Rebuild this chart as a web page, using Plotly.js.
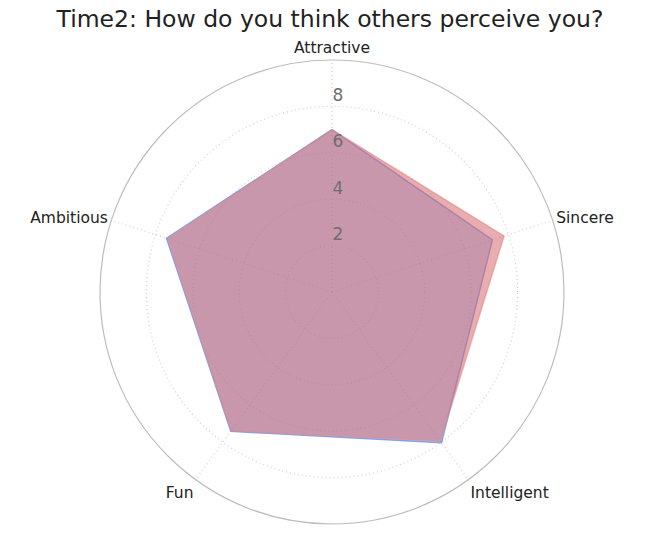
<!DOCTYPE html>
<html>
<head>
<meta charset="utf-8">
<script src="https://cdn.plot.ly/plotly-3.0.1.min.js"></script>
<style>html,body{margin:0;padding:0;background:#fff;}#chart{width:660px;height:538px;}</style>
</head>
<body>
<div id="chart"></div>
<script>
const categories = ["Attractive", "Sincere", "Intelligent", "Fun", "Ambitious"];
const seriesRed = [7.0, 7.8, 7.95, 7.4, 7.45];
const seriesBlue = [7.0, 7.27, 8.03, 7.42, 7.5];
const radialTicks = [2, 4, 6, 8];
const titleText = "Time2: How do you think others perceive you?";

function closeLoop(a) { return a.concat([a[0]]); }

const traces = [
  {
    type: "scatterpolar",
    r: closeLoop(seriesBlue),
    theta: closeLoop(categories),
    fill: "toself",
    fillcolor: "rgba(100,149,237,0.45)",
    line: {color: "rgba(110,155,237,0.9)", width: 1.5},
    mode: "lines",
    hoverinfo: "skip"
  },
  {
    type: "scatterpolar",
    r: closeLoop(seriesRed),
    theta: closeLoop(categories),
    fill: "toself",
    fillcolor: "rgba(215,105,110,0.55)",
    line: {color: "rgba(225,140,140,0.6)", width: 1.5},
    mode: "lines",
    hoverinfo: "skip"
  }
];

const layout = {
  width: 660,
  height: 538,
  margin: {l: 100, r: 96, t: 60, b: 14},
  paper_bgcolor: "#fff",
  showlegend: false,
  font: {family: "DejaVu Sans", size: 15.5, color: "#222"},
  title: {
    text: titleText,
    font: {family: "DejaVu Sans", size: 23.5, color: "#222"},
    x: 0.5, xanchor: "center",
    yref: "container",
    y: 0.966, yanchor: "middle"
  },
  polar: {
    bgcolor: "#fff",
    radialaxis: {
      range: [0, 10],
      tickvals: radialTicks,
      ticktext: radialTicks.map(v => v + "<br> "),
      showline: false,
      ticks: "",
      angle: 90,
      tickangle: 90,
      side: "clockwise",
      tickfont: {family: "DejaVu Sans", size: 17, color: "#6e6e6e"},
      gridcolor: "#cfcfcf",
      griddash: "1px,3px",
      gridwidth: 1.2
    },
    angularaxis: {
      rotation: 90,
      direction: "clockwise",
      showline: true,
      linecolor: "#bdbdbd",
      linewidth: 1.2,
      ticks: "",
      gridcolor: "#cfcfcf",
      griddash: "1px,3px",
      gridwidth: 1.2,
      tickfont: {family: "DejaVu Sans", size: 15.5, color: "#222"}
    }
  }
};

Plotly.newPlot("chart", traces, layout, {displayModeBar: false, staticPlot: true});
</script>
</body>
</html>
